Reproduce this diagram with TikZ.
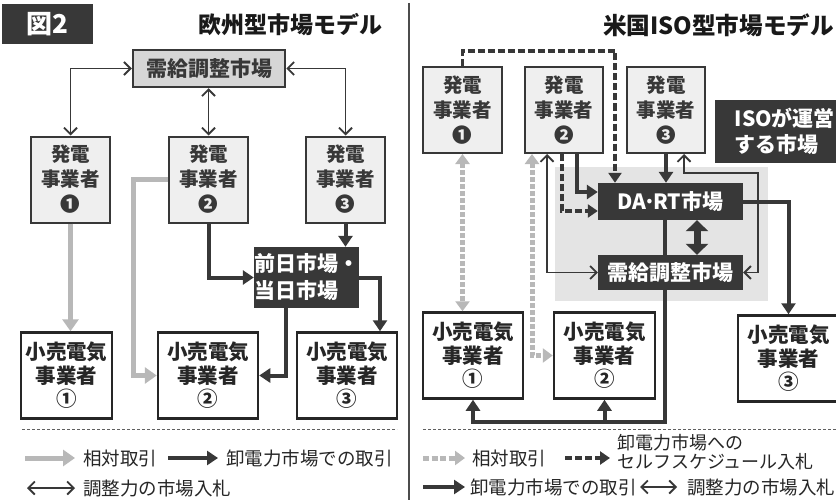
\documentclass[tikz,border=0pt]{standalone}
\usepackage{fontspec}
\newfontfamily\jp{Noto Sans CJK JP}
\usetikzlibrary{arrows.meta,calc}
\definecolor{dk}{HTML}{383838}
\definecolor{genfill}{HTML}{EFEFEF}
\definecolor{adjfill}{HTML}{D6D6D6}
\definecolor{grc}{HTML}{B8B8B8}
\definecolor{zonec}{HTML}{E4E4E4}
\definecolor{sepc}{HTML}{606060}
\tikzset{
  genbox/.style={draw=dk, line width=2pt, fill=genfill, minimum width=79pt, minimum height=86pt, inner sep=0pt, align=center, text=dk, font=\jp\bfseries\fontsize{19.5}{25}\selectfont},
  retbox/.style={draw=black!85, line width=2.5pt, fill=white, minimum width=100pt, minimum height=86pt, inner sep=0pt, align=center, text=black!85, font=\jp\bfseries\fontsize{20.5}{23.5}\selectfont},
  darkbox/.style={fill=dk, inner sep=0pt, text=white, font=\jp\bfseries\fontsize{21}{27}\selectfont},
  adjline/.style={{Straight Barb[width=13pt,length=6.5pt]}-{Straight Barb[width=13pt,length=6.5pt]}, line width=1.8pt, draw=dk},
  mkt/.style={-{Triangle[width=14pt,length=11pt]}, line width=4pt, draw=dk},
  mktline/.style={line width=4pt, draw=dk},
  rel/.style={-{Triangle[width=16pt,length=12pt]}, line width=5pt, draw=grc},
  reldash/.style={{Triangle[width=14pt,length=10pt]}-{Triangle[width=14pt,length=10pt]}, line width=5pt, draw=grc, dash pattern=on 5pt off 2pt},
  selfdash/.style={-{Triangle[width=13pt,length=10pt]}, line width=3.5pt, draw=dk, dash pattern=on 7pt off 3pt},
  legtext/.style={anchor=west, inner sep=0pt, text=black!85, font=\jp\fontsize{18.5}{20}\selectfont},
  sepline/.style={draw=sepc, line width=1pt, dash pattern=on 3pt off 2pt}
}
\begin{document}
\begin{tikzpicture}[x=1pt,y=-1pt]
\useasboundingbox (0,0) rectangle (836,503);
\fill[white] (0,0) rectangle (836,503);

% ---------------- LEFT PANEL ----------------
\node[darkbox, minimum width=91pt, minimum height=40pt, font=\jp\bfseries\fontsize{26}{28}\selectfont] (fig) at (47.5,24) {図2};
\node[inner sep=0pt, text=black!90, font=\jp\bfseries\fontsize{23}{25}\selectfont] (titleL) at (290,25) {欧州型市場モデル};

\node[draw=dk, line width=2.5pt, fill=adjfill, minimum width=152pt, minimum height=37pt, inner sep=0pt, text=dk, font=\jp\bfseries\fontsize{21}{24}\selectfont] (adjL) at (209,68.5) {需給調整市場};

\node[genbox] (genL1) at (70.5,179.5) {発電\\事業者\\❶};
\node[genbox] (genL2) at (208.5,179.5) {発電\\事業者\\❷};
\node[genbox] (genL3) at (345.5,179.5) {発電\\事業者\\❸};

\node[darkbox, minimum width=105pt, minimum height=61pt, align=left] (spot) at (306.5,277.5) {前日市場・\\当日市場};

\node[retbox, minimum width=91pt] (retL1) at (66.5,375.5) {小売電気\\事業者\\①};
\node[retbox] (retL2) at (208,375.5) {小売電気\\事業者\\②};
\node[retbox] (retL3) at (347,375.5) {小売電気\\事業者\\③};

% adjustment bids
\draw[adjline] (adjL.west) -| (genL1.north);
\draw[adjline] (genL2.north |- adjL.south) -- (genL2.north);
\draw[adjline] (adjL.east) -| (genL3.north);

% bilateral
\draw[rel] (genL1.south) -- (genL1.south |- retL1.north);
\coordinate (gl2c) at (133,179.5);
\draw[rel] (genL2.west) -- (gl2c) |- (retL2.west);

% wholesale
\draw[mkt] (genL2.south) |- (spot.west);
\draw[mkt] (genL3.south) -- (genL3.south |- spot.north);
\draw[mkt] (spot.east) -| ([xshift=33pt]retL3.north);
\draw[mkt] ([xshift=-20.5pt]spot.south) |- (retL2.east);

% separator and legend
\coordinate (sL1) at (22,429);
\coordinate (sL2) at (397,429);
\draw[sepline] (sL1) -- (sL2);

\coordinate (l1a) at (25,458); \coordinate (l1b) at (75,458);
\draw[rel] (l1a) -- (l1b);
\node[legtext] (t1) at (83,458) {相対取引};
\coordinate (l2a) at (168,458); \coordinate (l2b) at (218,458);
\draw[mkt] (l2a) -- (l2b);
\node[legtext] (t2) at (226,458) {卸電力市場での取引};
\coordinate (l3a) at (27,488); \coordinate (l3b) at (75,488);
\draw[adjline] (l3a) -- (l3b);
\node[legtext] (t3) at (83,488) {調整力の市場入札};

% divider
\coordinate (dv1) at (409,3); \coordinate (dv2) at (409,500);
\draw[draw=black!70, line width=1.5pt] (dv1) -- (dv2);

% ---------------- RIGHT PANEL ----------------
\node[anchor=west, inner sep=0pt, text=black!90, font=\jp\bfseries\fontsize{23.6}{26}\selectfont] (titleR) at (603,25) {米国ISO型市場モデル};

\fill[zonec] (555,167) rectangle (768,301);

\node[genbox] (genR1) at (462.5,110) {発電\\事業者\\❶};
\node[genbox, minimum width=78pt] (genR2) at (564,110) {発電\\事業者\\❷};
\node[genbox, minimum width=78pt] (genR3) at (666,110) {発電\\事業者\\❸};

\node[darkbox, minimum width=125pt, minimum height=63pt, anchor=north west, align=left, text width=110pt, font=\jp\bfseries\fontsize{21}{26}\selectfont] (iso) at (715,100) {\hspace*{12pt}ISOが運営\\\hspace*{12pt}する市場};

\node[darkbox, minimum width=145pt, minimum height=37pt] (dart) at (670.5,201.5) {DA\kern-0.14em·\kern-0.14em RT市場};
\node[darkbox, minimum width=145pt, minimum height=35pt] (adjR) at (670.5,272.5) {需給調整市場};

\node[retbox] (retR1) at (473,355.5) {小売電気\\事業者\\①};
\node[retbox, minimum width=101pt] (retR2) at (604.5,355.5) {小売電気\\事業者\\②};
\node[retbox, minimum width=101pt] (retR3) at (788.5,358.5) {小売電気\\事業者\\③};

% self-schedule (dashed)
\draw[selfdash] (genR1.north) -- ++(0,-15) -| ([xshift=-55.5pt]dart.north);
\draw[selfdash] ([xshift=-2pt]genR2.south) |- ([yshift=-9.5pt]dart.west);

% wholesale
\draw[mkt] ([xshift=13pt]genR2.south) |- ([yshift=9.5pt]dart.west);
\draw[mkt] (genR3.south) -- (genR3.south |- dart.north);
\draw[mkt] (dart.east) -| (retR3.north);
\draw[mktline] ([xshift=-5.5pt]dart.south) -- ([xshift=-5.5pt]adjR.north);
\coordinate (bl) at (473,422);
\draw[mkt] ([xshift=-5.5pt]adjR.south) |- (bl) -- (retR1.south);
\draw[mkt] (retR2.south |- bl) -- (retR2.south);

% adjustment
\draw[{Triangle[width=22pt,length=11pt]}-{Triangle[width=22pt,length=11pt]}, line width=7pt, draw=dk] ([xshift=26.5pt]dart.south) -- ([xshift=26.5pt]adjR.north);
\draw[adjline] ([xshift=-17pt]genR2.south) |- (adjR.west);
\coordinate (rc) at (758,173);
\draw[adjline] ([xshift=18pt]genR3.south) |- (rc) |- (adjR.east);

% bilateral (dashed gray)
\draw[reldash] (genR1.south) -- (genR1.south |- retR1.north);
\draw[reldash] ([xshift=-32pt]genR2.south) |- (retR2.west);

% separator and legend
\coordinate (sR1) at (423,429);
\coordinate (sR2) at (836,429);
\draw[sepline] (sR1) -- (sR2);

\coordinate (r1a) at (423,458); \coordinate (r1b) at (465,458);
\draw[line width=5pt, draw=grc, dash pattern=on 6pt off 2.5pt, -{Triangle[width=14pt,length=10pt]}] (r1a) -- (r1b);
\node[legtext] (u1) at (472,458) {相対取引};
\coordinate (r2a) at (565,458); \coordinate (r2b) at (610,458);
\draw[selfdash] (r2a) -- (r2b);
\node[legtext, align=left, font=\jp\fontsize{18}{19}\selectfont] (u2) at (617,452) {卸電力市場への\\セルフスケジュール入札};
\coordinate (r3a) at (423,487); \coordinate (r3b) at (465,487);
\draw[mkt] (r3a) -- (r3b);
\node[legtext] (u3) at (470,487) {卸電力市場での取引};
\coordinate (r4a) at (640,487); \coordinate (r4b) at (677,487);
\draw[adjline] (r4a) -- (r4b);
\node[legtext] (u4) at (687,487) {調整力の市場入札};
\end{tikzpicture}
\end{document}
